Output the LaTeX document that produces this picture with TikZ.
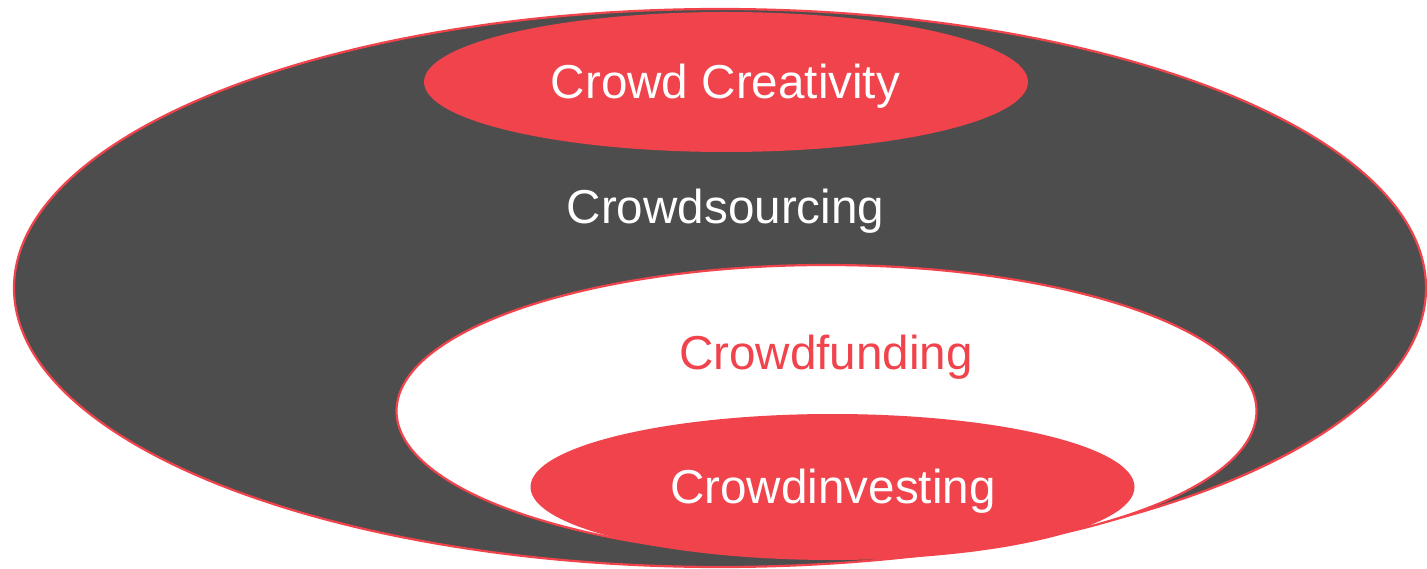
\documentclass[tikz,border=0pt]{standalone}
\usepackage{fontspec}
\setmainfont{Liberation Sans}
\definecolor{crowdred}{HTML}{F1434B}
\definecolor{crowdgray}{HTML}{4D4D4D}
\begin{document}
\begin{tikzpicture}[x=1pt,y=-1pt,
  lbl/.style={anchor=base,inner sep=0pt,font=\fontsize{47.6}{58}\selectfont},
  rim/.style={draw=crowdred,line width=2.2pt}]
\useasboundingbox (0,0) rectangle (1427,569);
% outer: crowdsourcing
\draw[rim,fill=crowdgray] (720,288) ellipse [x radius=706,y radius=279];
% crowd creativity
\fill[crowdred] (726,82) ellipse [x radius=302,y radius=70];
% crowdfunding
\draw[rim,fill=white] (826.5,411) ellipse [x radius=430,y radius=146];
% crowdinvesting
\fill[crowdred] (832.5,487) ellipse [x radius=302,y radius=73];
\node[lbl,text=white] (cc) at (725.5,99) {Crowd Creativity};
\node[lbl,text=white] (cs) at (725.5,224) {Crowdsourcing};
\node[lbl,text=crowdred] (cf) at (826,370) {Crowdfunding};
\node[lbl,text=white] (ci) at (833,503) {Crowdinvesting};
\end{tikzpicture}
\end{document}
